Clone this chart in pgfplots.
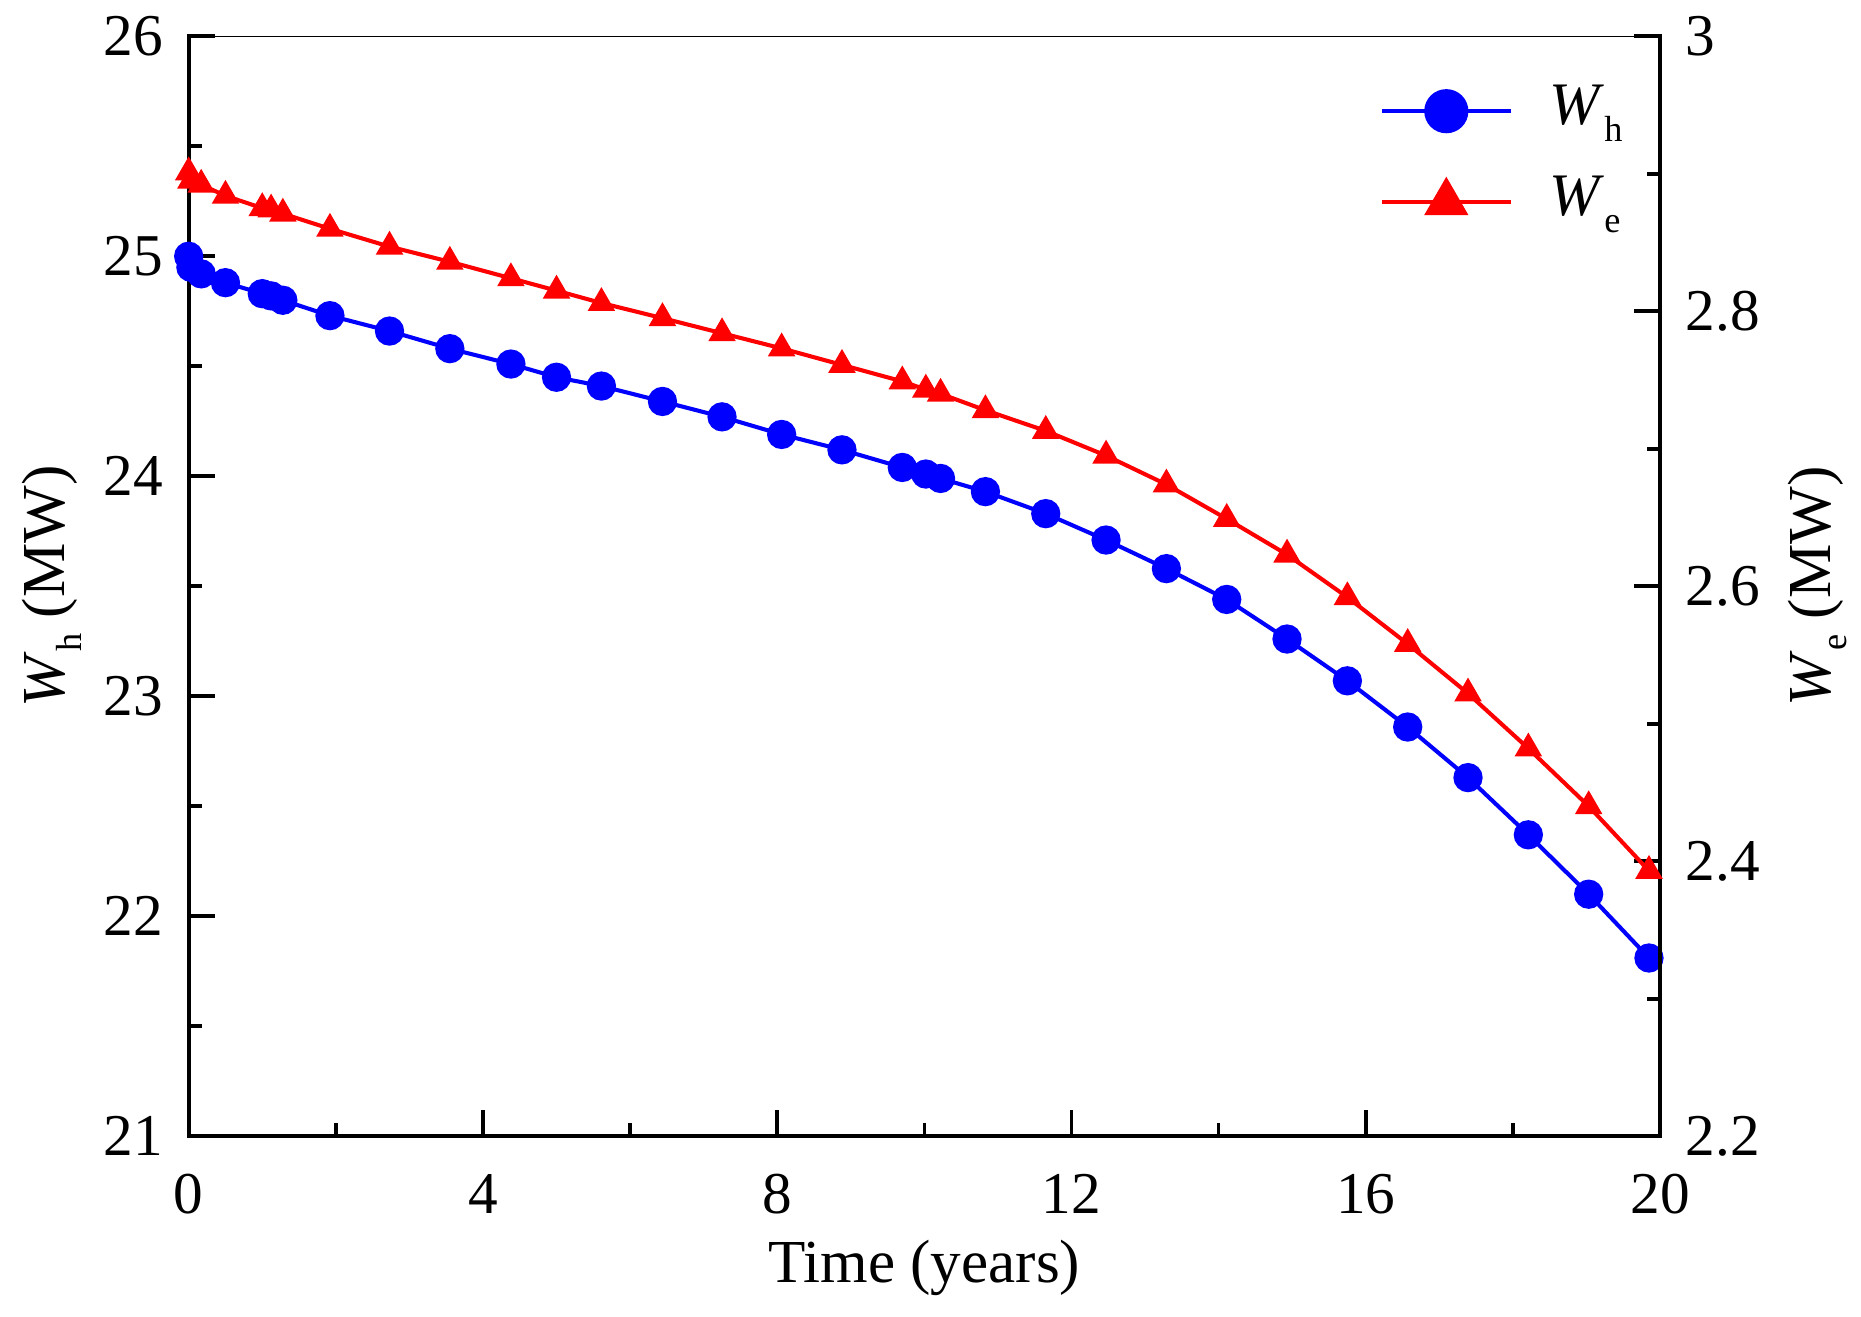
\documentclass[border=0pt]{standalone}
\usepackage{fontspec}
\setmainfont{Liberation Serif}
\usepackage{pgfplots}
\usepackage{pgfplotstable}
\pgfplotsset{compat=1.18}
\newcommand{\sub}[1]{\raisebox{-4.5pt}{\fontsize{9.8}{10}\selectfont #1}}

\pgfplotstableread{
x y
0 25.00
0.03 24.95
0.17 24.92
0.50 24.88
1.00 24.83
1.12 24.82
1.28 24.80
1.92 24.73
2.73 24.66
3.55 24.58
4.38 24.51
5.00 24.45
5.61 24.41
6.44 24.34
7.25 24.27
8.06 24.19
8.88 24.12
9.70 24.04
10.02 24.01
10.22 23.99
10.83 23.93
11.65 23.83
12.47 23.71
13.29 23.58
14.11 23.44
14.93 23.26
15.75 23.07
16.57 22.86
17.39 22.63
18.21 22.37
19.03 22.10
19.85 21.81
}\whdata

\pgfplotstableread{
x y
0 2.901
0.03 2.895
0.17 2.892
0.50 2.884
1.00 2.875
1.12 2.874
1.28 2.871
1.92 2.860
2.73 2.847
3.55 2.836
4.38 2.824
5.00 2.815
5.61 2.806
6.44 2.795
7.25 2.784
8.06 2.773
8.88 2.761
9.70 2.749
10.02 2.743
10.22 2.740
10.83 2.728
11.65 2.713
12.47 2.695
13.29 2.674
14.11 2.649
14.93 2.623
15.75 2.592
16.57 2.558
17.39 2.522
18.21 2.482
19.03 2.440
19.85 2.393
}\wedata

\pgfplotsset{
  common/.style={
    width=397.3pt, height=297pt, scale only axis,
    xmin=0, xmax=20,
    clip=false,
    tick align=inside,
    major tick length=7pt, minor tick length=3.5pt,
    every tick/.style={black, line width=1pt},
    /pgf/number format/assume math mode=true,
    tick label style={font=\fontsize{16}{19}\selectfont},
    label style={font=\fontsize{16.5}{19}\selectfont, inner sep=0pt},
  }
}

\begin{document}
\begin{tikzpicture}
\begin{axis}[common, name=ax,
  ymin=21, ymax=26,
  xtick={0,4,8,12,16,20},
  ytick={21,22,23,24,25,26},
  minor x tick num=1, minor y tick num=1,
  axis x line*=bottom, axis y line*=left,
  axis line style={line width=1pt, line cap=rect},
  yticklabel style={inner sep=0pt, anchor=east, xshift=-6.7pt},
  xticklabel style={inner sep=0pt, anchor=north, yshift=-10.1pt},
  xlabel={Time (years)},
  xlabel style={at={(axis description cs:0.5,0)}, anchor=base, yshift=-39.5pt},
  ylabel={\textit{W}\sub{h} (MW)},
  ylabel style={at={([xshift=-28.8pt]axis description cs:0,0.5)}, anchor=south},
]
\addplot[blue, line width=1.1pt, mark=*, mark size=3.4pt, mark options={fill=blue, draw=blue}] table[x=x, y=y] {\whdata};
\end{axis}
\begin{axis}[common,
  ymin=2.2, ymax=3,
  ytick={2.2,2.4,2.6,2.8,3},
  minor y tick num=1,
  xtick=\empty,
  axis y line*=right, axis x line*=top,
  x axis line style={line width=0.3pt},
  y axis line style={line width=1pt, line cap=rect},
  yticklabel style={inner sep=0pt, anchor=west, xshift=6.7pt},
  ylabel={\textit{W}\sub{e} (MW)},
  ylabel style={at={([xshift=34.3pt]axis description cs:1,0.5)}, anchor=north},
  legend style={at={(0.8097,0.9557)}, anchor=north west, draw=none, fill=none,
    inner sep=0pt, outer sep=0pt,
    row sep={24.6pt,between origins},
    cells={anchor=base west},
    nodes={inner sep=0pt},
    /tikz/every odd column/.style={column sep=10pt},
    font=\fontsize{16.3}{19}\selectfont},
]
\addlegendimage{legend image code/.code={
  \draw[blue, line width=1pt] (0pt,3.6pt) -- (34.8pt,3.6pt);
  \fill[blue] (17.4pt,3.6pt) circle (5.76pt);}}
\addlegendentry{\textit{W}\sub{h}}
\addplot[red, line width=1.1pt, mark=triangle*, mark size=3.2pt, mark options={fill=red, draw=red},
  legend image code/.code={
  \draw[red, line width=1pt] (0pt,3.6pt) -- (34.8pt,3.6pt);
  \draw[red] plot[mark=triangle*, mark size=5.8pt, mark options={fill=red, draw=red}] coordinates {(17.4pt,3.6pt)};}
  ] table[x=x, y=y] {\wedata};
\addlegendentry{\textit{W}\sub{e}}
\end{axis}
\path ([xshift=-50.95pt,yshift=-48.7pt]ax.south west) rectangle ([xshift=54.27pt,yshift=9.8pt]ax.north east);
\end{tikzpicture}
\end{document}
